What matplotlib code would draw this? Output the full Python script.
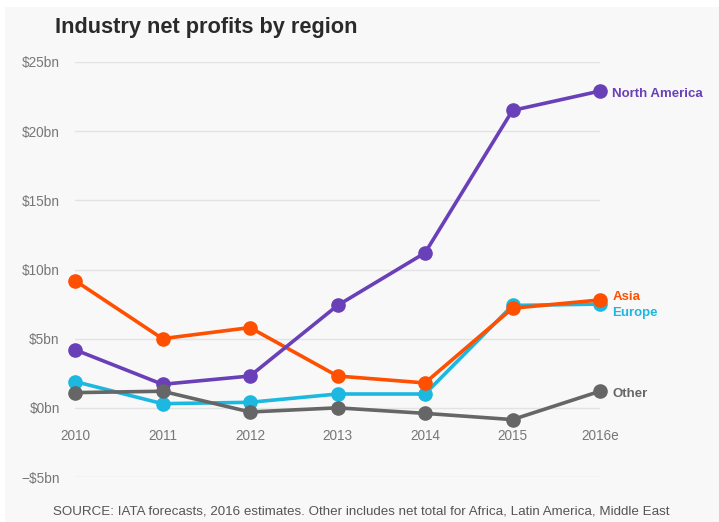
import matplotlib
matplotlib.use("Agg")
import matplotlib.pyplot as plt
from matplotlib.patches import Rectangle

years = ["2010", "2011", "2012", "2013", "2014", "2015", "2016e"]
north_america = [4.2, 1.7, 2.3, 7.4, 11.2, 21.5, 22.9]
asia = [9.2, 5.0, 5.8, 2.3, 1.8, 7.2, 7.8]
europe = [1.9, 0.3, 0.4, 1.0, 1.0, 7.4, 7.5]
other = [1.1, 1.2, -0.3, 0.0, -0.4, -0.85, 1.2]
y_ticks = [-5, 0, 5, 10, 15, 20, 25]
y_labels = ["\u2212$5bn", "$0bn", "$5bn", "$10bn", "$15bn", "$20bn", "$25bn"]

series = [
    ("Europe", europe, "#1cb8e0"),
    ("Asia", asia, "#fe5000"),
    ("North America", north_america, "#6a40b8"),
    ("Other", other, "#666666"),
]

plt.rcParams['font.family'] = ['Liberation Sans', 'DejaVu Sans']

W, H = 719, 522
fig = plt.figure(figsize=(W / 100, H / 100), dpi=100)
fig.patch.set_facecolor("white")
fig.patches.append(Rectangle((5 / W, 0), 1, 1 - 7 / H, transform=fig.transFigure,
                             facecolor="#f8f8f8", edgecolor="none", zorder=-10))

ax = fig.add_axes([75 / W, 1 - 477 / H, 525 / W, 415 / H])
ax.set_facecolor("none")
x = list(range(len(years)))
for name, vals, col in series:
    ax.plot(x, vals, color=col, lw=2.6, marker="o", ms=9.5, clip_on=False,
            solid_capstyle="round")

ax.set_xlim(0, len(years) - 1)
ax.set_ylim(-5, 25)
ax.set_yticks(y_ticks)
ax.set_yticklabels(y_labels, fontsize=9.8, color="#777777")
ax.tick_params(axis="y", length=0, pad=11)
ax.set_xticks([])
for s in ax.spines.values():
    s.set_visible(False)
ax.grid(axis="y", color="#e3e3e3", lw=1)
ax.set_axisbelow(True)

for i, lab in enumerate(years):
    ax.text(i, -2.05, lab, ha="center", va="center", fontsize=9.8, color="#777777")

# end labels
last = len(years) - 1
lx = last + 0.14
ax.text(lx, north_america[-1] - 0.2, "North America", color="#6a40b8",
        fontsize=9.5, fontweight="bold", va="center", ha="left")
ax.text(lx, 8.0, "Asia", color="#fe5000",
        fontsize=9.5, fontweight="bold", va="center", ha="left")
ax.text(lx, 6.85, "Europe", color="#1cb8e0",
        fontsize=9.5, fontweight="bold", va="center", ha="left")
ax.text(lx, other[-1] - 0.2, "Other", color="#666666",
        fontsize=9.5, fontweight="bold", va="center", ha="left")

fig.text(55 / W, 1 - 28 / H, "Industry net profits by region", fontsize=15.7,
         fontweight="bold", color="#2a2a2a", ha="left", va="center")
fig.text(361 / W, 1 - 511 / H,
         "SOURCE: IATA forecasts, 2016 estimates. Other includes net total for Africa, Latin America, Middle East",
         fontsize=9.6, color="#555555", ha="center", va="center")

fig.savefig("out.png", dpi=100, facecolor=fig.get_facecolor())
